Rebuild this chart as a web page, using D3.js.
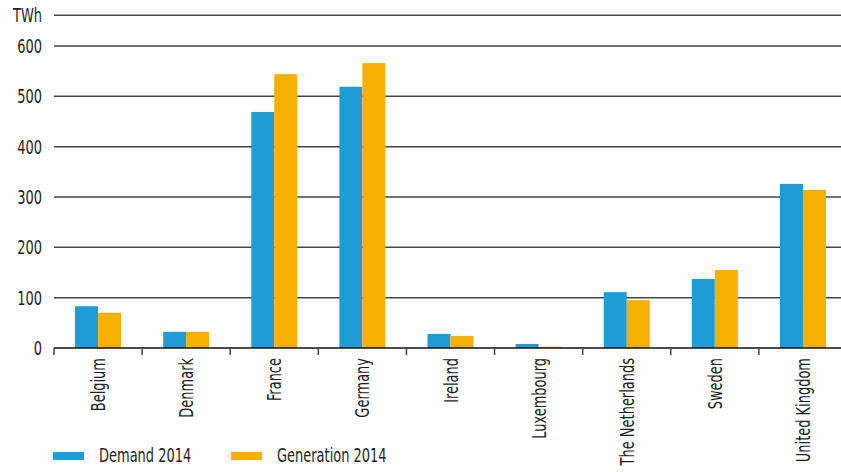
<!DOCTYPE html>
<html><head><meta charset="utf-8">
<script src="https://cdn.jsdelivr.net/npm/d3@7"></script>
<style>
body{margin:0;background:#fff;}
text{font-family:"DejaVu Sans Condensed","DejaVu Sans",sans-serif;fill:#1e1e1e;}
</style></head><body>
<svg id="c" width="841" height="472"></svg>
<script>
const categories = ["Belgium","Denmark","France","Germany","Ireland","Luxembourg","The Netherlands","Sweden","United Kingdom"];
const demand2014 = [83, 32, 469, 519, 28, 8, 111, 137, 326];
const generation2014 = [70, 32, 544, 566, 24, 2.5, 95, 155, 314];
const seriesNames = ["Demand 2014","Generation 2014"];
const yTicks = [0,100,200,300,400,500,600];
const unitLabel = "TWh";
const colors = ["#219BD8","#F9B000"];

const SX = 0.76, FS = 19;
const svg = d3.select("#c");
const x0 = 54, xEnd = 841;
const x = d3.scaleBand().domain(categories).range([54, 847]);
const y = d3.scaleLinear().domain([0,600]).range([348, 46]);
const barW = 23;
const xs = d3.scaleBand().domain(seriesNames)
  .range([x.bandwidth()/2 - barW, x.bandwidth()/2 + barW]);

function label(parent, tx, ty, rot, anchor, txt, fs){
  return parent.append("text")
    .attr("transform", `translate(${tx},${ty}) rotate(${rot}) scale(${SX},1)`)
    .attr("text-anchor", anchor).attr("font-size", fs || FS).text(txt);
}

// gridlines
const g = svg.append("g");
yTicks.filter(d=>d>0).concat([661]).forEach(t=>{
  g.append("line").attr("x1",x0).attr("x2",xEnd).attr("y1",y(t)).attr("y2",y(t))
    .attr("stroke","#444").attr("stroke-width",1.5);
});
label(svg, 42, y(661)+7, 0, "end", unitLabel);

// y labels
yTicks.forEach(t=> label(svg, 42, y(t)+7, 0, "end", t));

// bars
const series = [demand2014, generation2014];
series.forEach((vals,si)=>{
  svg.append("g").selectAll("rect").data(categories).join("rect")
    .attr("x",d=>x(d)+xs(seriesNames[si]))
    .attr("width",xs.bandwidth())
    .attr("y",(d,i)=>y(vals[i]))
    .attr("height",(d,i)=>y(0)-y(vals[i]))
    .attr("fill",colors[si]);
});

// x axis
const ax = svg.append("g");
ax.append("line").attr("x1",x0).attr("x2",xEnd).attr("y1",y(0)).attr("y2",y(0)).attr("stroke","#111").attr("stroke-width",1.5);
categories.forEach(c=>{
  ax.append("line").attr("x1",x(c)).attr("x2",x(c)).attr("y1",y(0)).attr("y2",y(0)+7).attr("stroke","#444").attr("stroke-width",1.5);
  label(ax, x(c)+x.bandwidth()/2+7, y(0)+10, -90, "end", c);
});

// legend
const lg = svg.append("g");
const lx = [53, 231];
seriesNames.forEach((s,i)=>{
  lg.append("rect").attr("x",lx[i]).attr("y",452).attr("width",31).attr("height",8).attr("fill",colors[i]);
  label(lg, lx[i]+46, 462, 0, "start", s);
});
</script>
</body></html>
